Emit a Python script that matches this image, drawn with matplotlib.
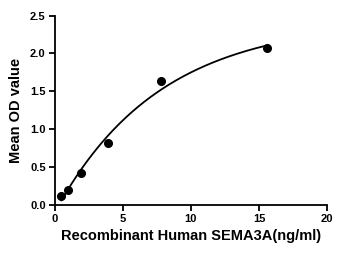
import numpy as np
import matplotlib
matplotlib.use("Agg")
import matplotlib.pyplot as plt

conc = [0.49, 0.98, 1.95, 3.9, 7.8, 15.6]
od = [0.115, 0.20, 0.42, 0.82, 1.64, 2.07]

plt.rcParams['font.family'] = ['Liberation Sans', 'DejaVu Sans']
fig = plt.figure(figsize=(3.54, 2.56), dpi=100)
ax = fig.add_axes([0.1545, 0.2004, 0.7695, 0.7383])

# saturation fit y = d + a*(1-exp(-b x)), grid over b with linear least squares
x = np.array(conc); y = np.array(od)
best = None
for b in np.linspace(0.01, 1.0, 2000):
    A = np.column_stack([np.ones_like(x), 1 - np.exp(-b * x)])
    sol, res, *_ = np.linalg.lstsq(A, y, rcond=None)
    r = np.sum((A @ sol - y) ** 2)
    if best is None or r < best[0]:
        best = (r, b, sol)
_, b, (d, a) = best
xs = np.linspace(0.5, 15.6, 200)
ax.plot(xs, d + a * (1 - np.exp(-b * xs)), color='black', lw=1.3)
ax.plot(conc, od, 'o', color='black', markersize=5.5)

ax.set_xlim(0, 20)
ax.set_ylim(0, 2.5)
ax.set_xticks([0, 5, 10, 15, 20])
ax.set_yticks([0, 0.5, 1.0, 1.5, 2.0, 2.5])
ax.set_yticklabels(['0.0', '0.5', '1.0', '1.5', '2.0', '2.5'])
for s in ['top', 'right']:
    ax.spines[s].set_visible(False)
for s in ['left', 'bottom']:
    ax.spines[s].set_linewidth(1.3)
ax.tick_params(width=1.3, length=4.5, labelsize=8, pad=2)
for lbl in ax.get_xticklabels() + ax.get_yticklabels():
    lbl.set_fontweight('bold')
ax.set_xlabel('Recombinant Human SEMA3A(ng/ml)', fontsize=10.5, fontweight='bold', labelpad=4)
ax.set_ylabel('Mean OD value', fontsize=10.5, fontweight='bold', labelpad=5)
fig.savefig('out.png', dpi=100)
